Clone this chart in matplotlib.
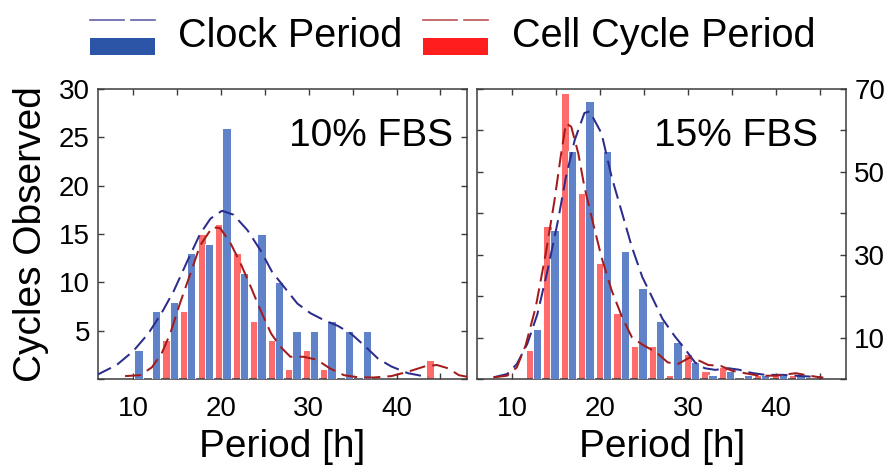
import matplotlib
matplotlib.use('Agg')
import matplotlib.pyplot as plt
from matplotlib.lines import Line2D
from matplotlib.patches import Rectangle

plt.rcParams['font.family'] = ['Liberation Sans', 'DejaVu Sans']

# ---------------- data ----------------
# 10% FBS
left_clock_x = [10.6, 12.6, 14.6, 16.6, 18.6, 20.6, 22.6, 24.6, 26.6, 28.6, 30.6, 32.6, 34.6, 36.6]
left_clock_n = [3, 7, 8, 13, 14, 26, 11, 15, 10, 5, 5, 6, 5, 5]
left_cell_x = [13.8, 15.8, 17.8, 19.8, 21.8, 23.8, 25.8, 27.8, 29.8, 31.8, 43.8]
left_cell_n = [4, 7, 15, 16, 13, 6, 4, 1, 3, 1, 2]

left_clock_fit_x = [5.8, 8.1, 10.0, 11.7, 13.2, 14.6, 16.1, 17.6, 18.8, 20.1, 21.4, 23.0, 24.5,
                    25.8, 27.2, 28.7, 30.2, 31.7, 33.3, 34.8, 36.4, 37.9, 39.4, 41.3, 43.6]
left_clock_fit_y = [0.4, 1.45, 2.9, 4.7, 6.8, 9.1, 12.1, 15.0, 16.6, 17.4, 17.0, 15.4, 13.3,
                    11.1, 9.5, 7.8, 6.8, 6.1, 5.5, 4.7, 3.4, 2.1, 1.3, 0.6, 0.2]
left_cell_fit_x = [9.05, 10.8, 12.1, 13.2, 14.2, 15.3, 16.5, 17.6, 19.0, 19.9, 21.1, 22.2, 23.4,
                   24.5, 25.7, 26.8, 27.9, 29.4, 30.9, 32.4, 34.0, 35.4, 37.3, 39.4, 41.3, 43.2,
                   44.6, 45.9, 47.1, 48.2]
left_cell_fit_y = [0.3, 0.4, 1.2, 2.6, 4.7, 7.8, 10.9, 13.8, 15.7, 15.6, 14.0, 12.0, 9.5,
                   7.1, 4.7, 3.3, 2.3, 2.3, 2.0, 1.1, 0.4, 0.2, 0.15, 0.3, 0.75, 1.3,
                   1.45, 1.1, 0.4, 0.2]

# 15% FBS
right_clock_x = [12.8, 14.8, 16.8, 18.8, 20.8, 22.8, 24.8, 26.8, 28.8, 30.8, 32.8, 34.8, 36.8, 38.8, 40.8, 42.8]
right_clock_n = [12, 36, 55, 67, 55, 31, 22, 14, 9, 4, 1, 2, 1, 1, 1, 1]
right_cell_x = [12, 14, 16, 18, 20, 22, 24, 26, 28, 30, 32, 34, 38, 40, 42]
right_cell_n = [7, 37, 69, 45, 28, 16, 8, 8, 1, 6, 2, 3, 1, 1, 1]

right_clock_fit_x = [7.85, 9.4, 10.5, 11.7, 12.85, 14.0, 15.2, 16.1, 17.1, 18.2, 18.8, 20.15, 21.3,
                     22.5, 23.6, 24.8, 25.9, 27.1, 28.5, 29.6, 30.8, 31.9, 33.1, 34.6, 35.8, 37.3,
                     38.8, 40.8, 42.3, 43.8, 45.4]
right_clock_fit_y = [0.4, 1.2, 3.6, 8.5, 15.7, 26.2, 38.3, 48.8, 57.7, 64.2, 64.6, 59.3, 48.8,
                     40.0, 31.9, 24.6, 19.8, 14.5, 10.3, 7.4, 4.0, 2.6, 2.2, 2.6, 2.25, 1.45,
                     1.0, 1.0, 0.8, 0.6, 0.3]
right_cell_fit_x = [7.85, 9.4, 10.5, 11.5, 12.65, 13.8, 14.8, 15.5, 16.1, 16.7, 17.5, 18.2, 19.2,
                    20.15, 21.3, 22.5, 23.6, 24.8, 25.9, 26.5, 27.7, 28.85, 30.2, 31.3, 32.3, 33.8,
                    35.0, 36.5, 38.1, 40.0, 42.3, 43.8, 45.4]
right_cell_fit_y = [0.4, 0.8, 2.8, 8.1, 17.3, 30.3, 43.2, 53.7, 61.7, 60.9, 54.5, 46.4, 37.5,
                    29.4, 21.4, 14.9, 10.1, 8.3, 7.0, 6.2, 4.0, 3.6, 5.2, 4.4, 3.4, 3.1,
                    2.0, 1.4, 0.8, 0.8, 1.4, 0.8, 0.3]

panel_titles = ['10% FBS', '15% FBS']
legend_labels = ['Clock Period', 'Cell Cycle Period']
x_ticks = [10, 15, 20, 25, 30, 35, 40, 45]
x_ticklabels = ['10', '', '20', '', '30', '', '40', '']
left_yticks = [0, 5, 10, 15, 20, 25, 30]
left_yticklabels = ['', '5', '10', '15', '20', '25', '30']
right_yticks = [0, 10, 20, 30, 40, 50, 60, 70]
right_yticklabels = ['', '10', '', '30', '', '50', '', '70']

# ---------------- style ----------------
BAR_BLUE = '#6082c8'
BAR_RED = '#ff6a6a'
FIT_BLUE = '#2c2c8c'
FIT_RED = '#a31c1c'
LEG_BLUE = '#2c55a8'
LEG_RED = '#ff1e1e'
SPINE = '#3c3c3c'
DASH = (0, (8, 3.5))

W, H = 886, 467
fig = plt.figure(figsize=(W / 100, H / 100), dpi=100)
ax1 = fig.add_axes([98.3 / W, 88.0 / H, 368.4 / W, 290.0 / H])
ax2 = fig.add_axes([477.3 / W, 88.0 / H, 368.7 / W, 290.0 / H])

panels = [
    (ax1, left_clock_x, left_clock_n, left_cell_x, left_cell_n,
     left_clock_fit_x, left_clock_fit_y, left_cell_fit_x, left_cell_fit_y),
    (ax2, right_clock_x, right_clock_n, right_cell_x, right_cell_n,
     right_clock_fit_x, right_clock_fit_y, right_cell_fit_x, right_cell_fit_y),
]

for ax, bx, bn, rx, rn, bfx, bfy, rfx, rfy in panels:
    ax.bar(rx, rn, width=0.97, color=BAR_RED, edgecolor='white', linewidth=0.7, zorder=2)
    ax.bar(bx, bn, width=0.95, color=BAR_BLUE, edgecolor='white', linewidth=0.7, zorder=3)
    ax.plot(bfx, bfy, color=FIT_BLUE, lw=1.45, ls=DASH, zorder=4)
    ax.plot(rfx, rfy, color=FIT_RED, lw=1.45, ls=DASH, zorder=5)
    ax.set_xlim(6, 48)
    ax.set_xticks(x_ticks)
    ax.set_xticklabels(x_ticklabels)
    ax.tick_params(direction='in', length=4, width=1.0, color=SPINE,
                   top=True, right=True, left=True, bottom=True, labelsize=20)
    ax.tick_params(axis='x', pad=12)
    ax.tick_params(axis='y', pad=6)
    for s in ax.spines.values():
        s.set_color(SPINE)
        s.set_linewidth(1.1)
    ax.set_xlabel('Period [h]', fontsize=28, labelpad=5)

ax1.set_ylim(0, 30)
ax1.set_yticks(left_yticks)
ax1.set_yticklabels(left_yticklabels)
ax1.set_ylabel('Cycles Observed', fontsize=28, labelpad=7)

ax2.set_ylim(0, 70)
ax2.set_yticks(right_yticks)
ax2.set_yticklabels(right_yticklabels)
ax2.tick_params(axis='y', labelleft=False, labelright=True)

ax1.text(0.963, 0.802, panel_titles[0], transform=ax1.transAxes, ha='right',
         va='baseline', fontsize=28)
ax2.text(0.925, 0.802, panel_titles[1], transform=ax2.transAxes, ha='right',
         va='baseline', fontsize=28)

# ---------------- legend (manual, above panels) ----------------
def fx(p):
    return p / W

def fy(p):
    return 1 - p / H

legend_items = [
    (89.7, LEG_BLUE, FIT_BLUE, 178.0, legend_labels[0]),
    (423.0, LEG_RED, FIT_RED, 512.0, legend_labels[1]),
]
for x0, fc, lc, tx, lab in legend_items:
    fig.add_artist(Line2D([fx(x0), fx(x0 + 34)], [fy(20), fy(20)], color=lc,
                          lw=1.2, alpha=0.75))
    fig.add_artist(Line2D([fx(x0 + 41), fx(x0 + 65)], [fy(20), fy(20)], color=lc,
                          lw=1.2, alpha=0.75))
    fig.add_artist(Rectangle((fx(x0), fy(55)), 65 / W, 17 / H, facecolor=fc,
                             edgecolor='none', transform=fig.transFigure))
    fig.text(fx(tx), fy(47), lab, fontsize=28.5, va='baseline', ha='left')

fig.savefig('out.png', dpi=100)
